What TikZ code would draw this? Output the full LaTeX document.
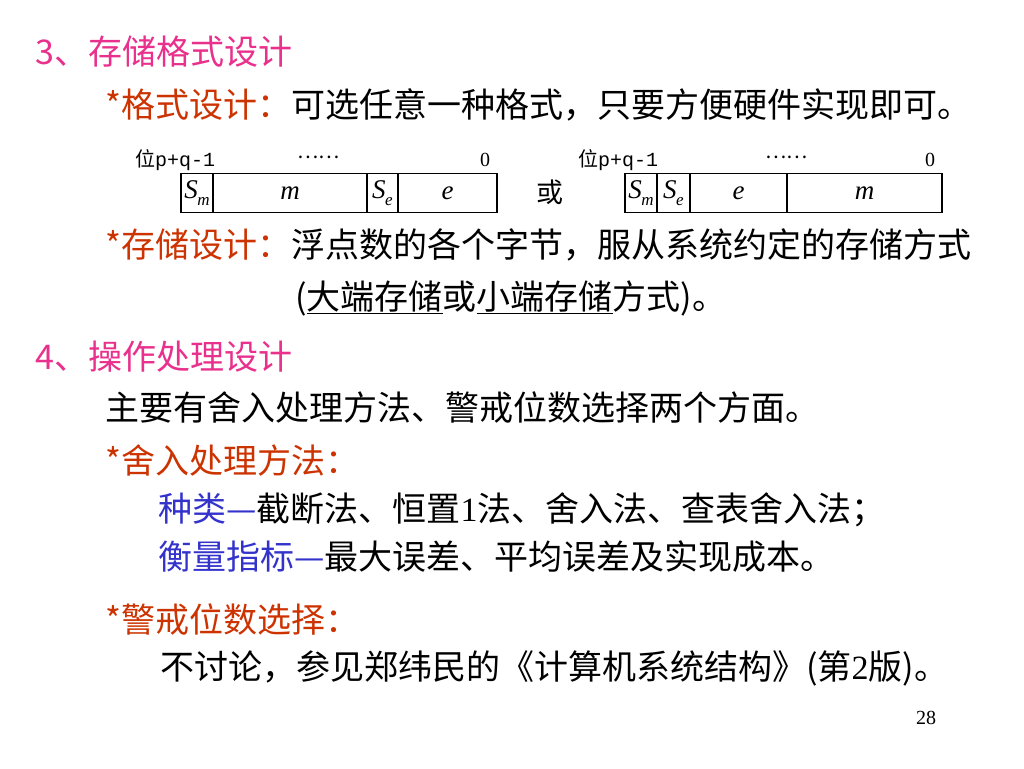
\documentclass[tikz,border=0pt]{standalone}
\usepackage{fontspec}
\setmainfont{Noto Sans CJK SC}
\newfontfamily\ser{Liberation Serif}
\newfontfamily\mono{Liberation Mono}
\definecolor{pinkh}{RGB}{232,48,140}
\definecolor{orgh}{RGB}{204,51,0}
\definecolor{blueh}{RGB}{51,51,204}
\newcommand\Ssub[1]{{\ser\itshape S}\kern-0.5pt\raisebox{-0.28em}{\ser\fontsize{17}{17}\selectfont\itshape #1}}
\tikzset{
  txt/.style={anchor=west,inner sep=0pt,font=\fontsize{34}{40}\selectfont},
  small/.style={anchor=west,inner sep=0pt,font=\fontsize{20}{24}\selectfont},
  cell/.style={draw,line width=1.5pt,anchor=west,inner sep=0pt,outer sep=0pt,minimum height=39,font=\ser\itshape\fontsize{27}{30}\selectfont}
}
\begin{document}
\begin{tikzpicture}[x=1pt,y=-1pt]
\useasboundingbox[fill=white] (0,0) rectangle (1024,768);
% headings
\node[txt,text=pinkh] (h3) at (35,52) {3、存储格式设计};
\node[txt] (l1) at (105,105) {\textcolor{orgh}{*格式设计：}可选任意一种格式，只要方便硬件实现即可。};
% format 1
\node[small] (p1) at (135,160) {位{\mono p+q-1}};
\node[small] (d1) at (297,157) {……};
\node[small] (z1) at (480,160) {\ser 0};
\node[cell,minimum width=32] (sm1) at (181,193) {\Ssub{m}};
\node[cell,minimum width=154] (m1) at (sm1.east) {m};
\node[cell,minimum width=31] (se1) at (m1.east) {\Ssub{e}};
\node[cell,minimum width=99] (e1) at (se1.east) {e};
\node[anchor=center,inner sep=0pt,font=\fontsize{27}{30}\selectfont] (or) at (550,192) {或};
% format 2
\node[small] (p2) at (578,160) {位{\mono p+q-1}};
\node[small] (d2) at (765,157) {……};
\node[small] (z2) at (925,160) {\ser 0};
\node[cell,minimum width=32] (sm2) at (625,193) {\Ssub{m}};
\node[cell,minimum width=33] (se2) at (sm2.east) {\Ssub{e}};
\node[cell,minimum width=97] (e2) at (se2.east) {e};
\node[cell,minimum width=155] (m2) at (e2.east) {m};
% storage design
\node[txt] (l2) at (105,245) {\textcolor{orgh}{*存储设计：}浮点数的各个字节，服从系统约定的存储方式};
\node[txt] (l3) at (295,298) {(\underline{大端存储}或\underline{小端存储}方式)。};
% section 4
\node[txt,text=pinkh] (h4) at (35,357) {4、操作处理设计};
\node[txt] (l4) at (105,408) {主要有舍入处理方法、警戒位数选择两个方面。};
\node[txt,text=orgh] (l5) at (105,460) {*舍入处理方法：};
\node[txt] (l6) at (158,510) {\textcolor{blueh}{种类—}截断法、恒置{\ser 1}法、舍入法、查表舍入法；};
\node[txt] (l7) at (158,557) {\textcolor{blueh}{衡量指标—}最大误差、平均误差及实现成本。};
\node[txt,text=orgh] (l8) at (105,620) {*警戒位数选择：};
\node[txt] (l9) at (160,668) {不讨论，参见郑纬民的《计算机系统结构》(第{\ser 2}版)。};
\node[anchor=center,inner sep=0pt,font=\ser\fontsize{20}{24}\selectfont] (pg) at (926,718) {28};
\end{tikzpicture}
\end{document}
